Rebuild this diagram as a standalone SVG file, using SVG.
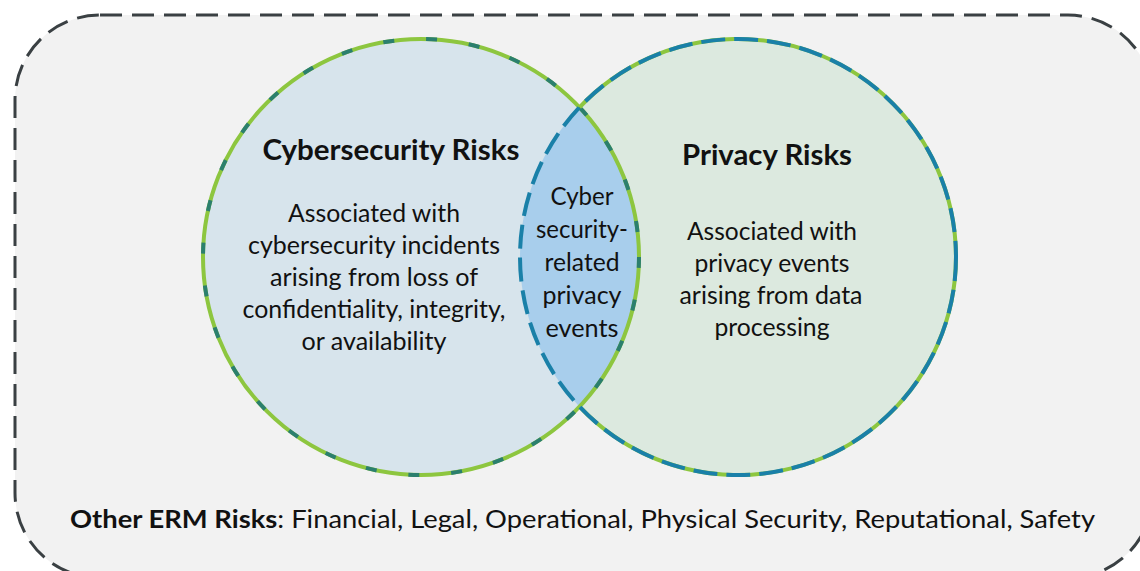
<svg xmlns="http://www.w3.org/2000/svg" width="1140" height="571" viewBox="0 0 1140 571">
  <style>
    .t { font-family: Lato, "Open Sans", "Liberation Sans", sans-serif; fill: #111; text-anchor: middle; }
    .h { font-size: 28px; font-weight: bold; }
    .b { font-size: 24.5px; }
  </style>
  <rect x="0" y="0" width="1140" height="571" fill="#ffffff"/>
  <g id="frame">
    <rect x="15" y="15" width="1138" height="563" rx="85" ry="85" fill="#f2f2f2" stroke="#3a4043" stroke-width="3" stroke-dasharray="22 10"/>
  </g>
  <g id="cyber">
    <circle cx="421" cy="257" r="218" fill="#d7e4ec"/>
  </g>
  <g id="privacy">
    <circle cx="738" cy="257" r="218" fill="#dce9df"/>
  </g>
  <g id="overlap">
    <path d="M579.5 107.3 A218 218 0 0 1 579.5 406.7 A218 218 0 0 1 579.5 107.3 Z" fill="#a8ceec"/>
  </g>
  <g id="connectors">
    <circle cx="421" cy="257" r="218" fill="none" stroke="#8dc63f" stroke-width="4"/>
    <circle cx="421" cy="257" r="218" fill="none" stroke="#2b7f6e" stroke-width="4" stroke-dasharray="11 32"/>
    <path d="M579.5 107.3 A218 218 0 1 1 579.5 406.7" fill="none" stroke="#8dc63f" stroke-width="4"/>
    <circle cx="738" cy="257" r="218" fill="none" stroke="#1a80a8" stroke-width="4" stroke-dasharray="24 9"/>
  </g>
  <g id="cyber-text">
    <text class="t h" x="391" y="160" textLength="257" lengthAdjust="spacingAndGlyphs">Cybersecurity Risks</text>
    <text class="t b" x="374" y="222" textLength="172" lengthAdjust="spacingAndGlyphs">Associated with</text>
    <text class="t b" x="374" y="254" textLength="252" lengthAdjust="spacingAndGlyphs">cybersecurity incidents</text>
    <text class="t b" x="374" y="286" textLength="208" lengthAdjust="spacingAndGlyphs">arising from loss of</text>
    <text class="t b" x="374" y="318" textLength="263" lengthAdjust="spacingAndGlyphs">confidentiality, integrity,</text>
    <text class="t b" x="374" y="350" textLength="145" lengthAdjust="spacingAndGlyphs">or availability</text>
  </g>
  <g id="overlap-text">
    <text class="t b" x="582" y="205" textLength="63" lengthAdjust="spacingAndGlyphs">Cyber</text>
    <text class="t b" x="582" y="238" textLength="92" lengthAdjust="spacingAndGlyphs">security-</text>
    <text class="t b" x="582" y="271" textLength="75" lengthAdjust="spacingAndGlyphs">related</text>
    <text class="t b" x="582" y="304" textLength="79" lengthAdjust="spacingAndGlyphs">privacy</text>
    <text class="t b" x="582" y="337" textLength="73" lengthAdjust="spacingAndGlyphs">events</text>
  </g>
  <g id="privacy-text">
    <text class="t h" x="767" y="165" textLength="170" lengthAdjust="spacingAndGlyphs">Privacy Risks</text>
    <text class="t b" x="772" y="240" textLength="170" lengthAdjust="spacingAndGlyphs">Associated with</text>
    <text class="t b" x="772" y="272" textLength="155" lengthAdjust="spacingAndGlyphs">privacy events</text>
    <text class="t b" x="771" y="304" textLength="183" lengthAdjust="spacingAndGlyphs">arising from data</text>
    <text class="t b" x="772" y="336" textLength="115" lengthAdjust="spacingAndGlyphs">processing</text>
  </g>
  <g id="other">
    <text class="t b" x="70" y="528" style="text-anchor:start" textLength="1025" lengthAdjust="spacingAndGlyphs"><tspan font-weight="bold">Other ERM Risks</tspan>: Financial, Legal, Operational, Physical Security, Reputational, Safety</text>
  </g>
</svg>
